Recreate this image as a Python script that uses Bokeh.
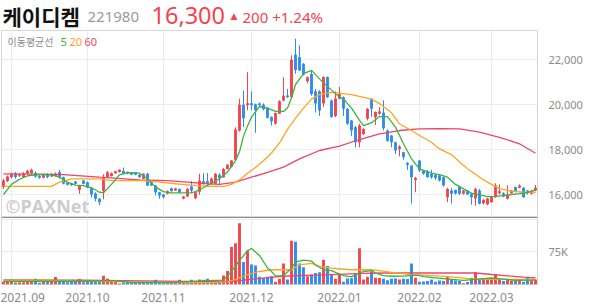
from bokeh.plotting import figure
from bokeh.layouts import column
from bokeh.models import ColumnDataSource, FixedTicker, Label, Span, NumeralTickFormatter, Range1d
from bokeh.embed import file_html
from bokeh.resources import INLINE

# ---------------- data ----------------
opens = [16330,16600,16770,16950,16830,16780,16920,16950,16970,16830,16750,16900,16800,16820,17000,16770,16520,16500,16580,16210,
         16620,16550,16300,16050,15810,16170,16770,16820,16950,17000,17050,16990,16960,16990,16880,16700,16920,16550,16400,16100,
         16000,16030,16280,16180,16250,15810,15910,16360,15830,16120,16590,16600,16480,16480,16880,16770,17140,17220,17550,18850,
         20000,19980,20070,20020,20050,20000,19860,19450,19150,19600,20190,20410,20330,22230,22110,21820,21050,21370,20600,20600,
         20050,21230,20190,19500,20270,20330,19820,19300,19000,18330,18700,19370,20260,19440,19600,19650,18850,18630,18330,18030,
         17880,17400,17290,16650,17510,17070,17030,16920,16880,16850,16770,15880,16180,16200,16330,16030,16180,16030,15820,16180,
         15610,15560,15660,15880,16060,16060,15810,16060,16330,16300,16300,16180,16030,16180]
highs = [16700,16850,16960,17000,16950,17000,17100,17150,17020,16880,16900,16950,16950,16980,17100,16800,16550,16530,16600,16420,
         16650,16580,16320,16100,15850,16900,17050,16980,17060,17120,17200,17030,16990,17010,16900,16950,16960,16570,16420,16120,
         16020,16180,16310,16300,16270,15930,16290,16600,16130,16930,16950,16960,16760,16960,16950,17180,17350,17540,19000,20260,
         20630,21450,20600,20050,20100,20060,19880,19480,19650,20200,21220,20700,22200,22940,22640,21850,21260,21500,20700,20650,
         21260,21260,20230,20600,20800,20370,19850,19320,19050,19150,18950,19850,20300,19700,19900,20200,18900,18650,18350,18200,
         17900,17450,17300,16780,17530,17100,17100,17100,16900,16880,16800,16300,16300,16220,16400,16200,16200,16060,16300,16250,
         15800,15850,15950,16500,16450,16100,16420,16200,16350,16450,16330,16200,16210,16420]
lows = [16250,16550,16720,16700,16780,16750,16880,16920,16750,16700,16720,16720,16780,16800,16700,16450,16400,16380,16450,16030,
        16450,16280,15870,15690,15530,15780,16750,16800,16930,16980,16900,16900,16860,16860,16740,16680,16380,16380,15960,15810,
        15830,16000,16130,16160,16050,15790,15880,16050,15790,16000,16440,16440,16450,16460,16480,16750,17120,17200,17500,18800,
        19000,19750,19750,18750,19920,19750,19380,19070,19120,19580,20150,20300,20300,21380,21500,21300,20950,20400,19650,19500,
        19900,20300,19420,19450,20250,19500,19100,18600,18100,18100,18650,19300,19450,19100,19550,18850,18350,18100,17800,17700,
        17550,17100,15600,16100,17000,16880,16750,16700,16650,16580,16350,15660,15600,16000,15980,16000,15980,15550,15500,15560,
        15550,15530,15630,15850,16000,15880,15780,16040,16100,16280,15850,16000,16000,16150]
closes = [16620,16800,16920,16780,16900,16950,17050,17100,16800,16750,16870,16780,16900,16930,16780,16480,16430,16420,16480,16400,
          16480,16300,16000,15810,15660,16770,16990,16950,17040,17100,16920,16920,16880,16880,16770,16920,16400,16400,16100,15960,
          15880,16150,16150,16280,16100,15910,16250,16180,16100,16620,16500,16500,16700,16920,16740,17140,17320,17510,18900,20000,
          19400,20070,19980,19750,19980,19800,19420,19260,19630,20150,20400,20340,22000,21550,21520,21340,21220,20480,20050,19740,
          21230,20330,19450,20280,20500,19820,19150,18850,18330,19070,18920,19820,19820,19670,19700,18950,18400,18330,17960,18140,
          17660,17330,16770,16730,17070,16920,16770,16770,16740,16620,16400,16250,16030,16050,16030,16180,16000,15880,16250,15590,
          15760,15820,15910,16400,16150,15910,16000,16180,16150,16400,15880,16060,16100,16300]
# volume in thousands of shares
volumes = [6.2,5.5,6.0,4.8,5.3,4.9,5.6,6.4,13.2,4.2,6.1,5.7,7.0,17.5,8.2,6.3,5.4,6.0,5.8,12.8,
           5.2,6.6,6.9,5.9,6.3,20.1,13.0,8.3,7.8,2.3,4.5,5.8,4.1,4.4,3.9,4.6,3.8,4.2,10.8,4.0,
           3.7,4.3,4.1,4.5,11.2,4.6,4.0,11.0,7.9,11.3,11.0,13.1,8.0,6.5,6.8,20.6,31.0,86.7,94.8,141.0,
           52.0,78.0,46.0,44.0,17.6,14.7,17.6,19.0,6.6,13.0,48.5,11.8,101.0,98.5,48.5,39.7,19.0,22.8,26.5,28.0,
           57.0,42.6,22.8,13.0,22.8,6.6,14.0,14.5,26.5,83.8,11.8,17.6,30.0,15.4,15.0,13.0,9.6,13.0,14.0,11.8,
           13.2,12.5,48.5,15.4,6.6,6.9,8.0,11.8,6.4,9.5,8.2,17.6,13.0,9.3,8.0,3.0,6.0,15.4,28.0,11.8,
           13.2,11.5,13.0,24.0,12.0,8.0,11.8,9.5,8.2,11.8,6.5,17.0,9.4,11.8]

# moving averages (trading-day index, value)
ma5_idx = [0,2,4,6,8,10,12,14,16,18,20,22,24,25,27,29,31,34,36,38,40,42,44,47,48,50,52,54,56,58,59,60,61,62,64,66,68,70,71,72,
           73,75,77,79,82,84,85,87,89,90,92,94,96,98,100,102,104,107,109,111,113,115,117,119,121,123,125,127,129,131,133]
ma5_val = [16000,16450,16680,16830,16880,16900,16870,16780,16540,16420,16400,16300,16100,16080,16450,16880,16980,16950,16700,16330,
           16130,16070,16070,16080,16130,16300,16500,16700,17000,17510,17900,18600,19050,19450,19920,19850,19700,19700,19850,20300,
           20900,21380,21530,21150,20650,20330,20260,19850,19300,19070,19200,19470,19470,19000,18260,17590,17140,16950,16890,16770,
           16450,16250,16060,15980,15910,15920,15950,16000,16040,16090,16200]
ma20_idx = [0,12,14,17,24,27,35,39,43,48,52,55,57,59,61,63,65,67,69,71,73,75,77,79,82,87,92,94,97,99,102,104,107,109,112,114,
            116,118,120,122,124,127,130,133]
ma20_val = [16360,16360,16550,16700,16700,16620,16620,16550,16480,16400,16360,16360,16450,16650,16950,17200,17500,17850,18300,18900,
            19400,19850,20250,20450,20550,20450,20250,20050,19640,19150,18850,18630,18330,18030,17780,17450,17150,16900,16650,16450,
            16260,16150,16100,16100]
ma60_idx = [0,14,24,34,41,46,51,54,58,62,66,70,74,79,84,89,94,99,104,109,114,119,124,129,133]
ma60_val = [16920,16900,16770,16650,16620,16550,16480,16450,16550,16770,16990,17220,17590,17960,18150,18450,18700,18850,18920,18930,
            18920,18780,18550,18260,17840]

vma5_idx = [0,10,20,26,28,32,38,42,46,50,53,55,57,59,61,62,64,66,67,68,70,72,73,75,77,78,80,82,83,85,87,88,90,92,93,95,97,100,
            102,104,105,108,112,115,118,122,125,128,133]
vma5_val = [7,7.5,7.5,9,8.5,5,5.5,4.5,6.5,8.5,9.5,10,30,55,78,83,67,38,30,20,20.6,37.5,52,56,54,45,34,32,28,20.6,17.6,22.8,30,32,
            26.5,20.6,19,19.5,21,21,18,15.4,11.8,9.6,12,15,12.5,9.6,10]
vma20_idx = [0,12,18,30,40,52,56,58,61,64,67,72,74,77,79,82,87,92,94,97,102,107,112,117,122,133]
vma20_val = [9.6,9.6,7,6.6,4.5,4.4,6,11.8,22.8,30,34,34,45,48.5,42.6,37.5,34,34,32,28,22.8,20.6,17.6,13,11.8,11.8]
vma60_idx = [0,20,40,52,57,60,63,66,70,75,80,85,90,95,118,122,126,130,133]
vma60_val = [10.5,10,8,6.5,6.5,10,13,16,19,21,22,24,25.5,26.5,26.5,23,20,17,15]

month_start = [2, 21, 40, 62, 84, 104, 122]
month_labels = ["2021.09", "2021.10", "2021.11", "2021.12", "2022.01", "2022.02", "2022.03"]
price_ticks = [16000, 18000, 20000, 22000]

title_name = "케이디켐"
title_code = "221980"
title_price = "16,300"
title_change = "200 +1.24%"

# ---------------- styling ----------------
UP = "#f2444f"
DOWN = "#2d8cf0"
C5 = "#3cb43c"
C20 = "#ffa41f"
C60 = "#f2426b"
GRID = "#ececec"
AXC = "#8a8a8a"
FONT = "Noto Sans"

n = len(opens)
idx = list(range(n))
up = [c >= o for o, c in zip(opens, closes)]
col = [UP if u else DOWN for u in up]
top = [max(o, c) for o, c in zip(opens, closes)]
bot = [min(o, c) for o, c in zip(opens, closes)]
bot = [b if t - b >= 40 else t - 40 for t, b in zip(top, bot)]
src = ColumnDataSource(dict(x=idx, o=opens, h=highs, l=lows, c=closes, top=top, bot=bot, col=col,
                            v=[vv * 1000 for vv in volumes]))

xr = Range1d(-0.5, n - 0.5)

# ---------------- header ----------------
h = figure(width=594, height=30, x_range=Range1d(0, 594), y_range=Range1d(0, 30),
           x_axis_location=None, y_axis_location=None, toolbar_location=None,
           output_backend="svg", min_border=0, outline_line_color=None)
h.xgrid.visible = False
h.ygrid.visible = False
h.add_layout(Label(x=1, y=15, x_units="screen", y_units="screen", text=title_name, text_font="Noto Sans CJK KR",
                   text_font_style="bold", text_font_size="21px", text_color="#111111", text_baseline="middle"))
h.add_layout(Label(x=86, y=14, x_units="screen", y_units="screen", text=title_code, text_font=FONT,
                   text_font_size="15px", text_color="#9a9a9a", text_baseline="middle"))
h.add_layout(Label(x=150, y=15, x_units="screen", y_units="screen", text=title_price, text_font=FONT,
                   text_font_size="23.5px", text_color=UP, text_baseline="middle"))
h.add_layout(Label(x=229, y=15, x_units="screen", y_units="screen", text="▲", text_font="DejaVu Sans",
                   text_font_size="9px", text_color=UP, text_baseline="middle"))
h.add_layout(Label(x=241, y=14, x_units="screen", y_units="screen", text=title_change, text_font=FONT,
                   text_font_size="15px", text_color=UP, text_baseline="middle"))

# ---------------- price panel ----------------
p = figure(width=594, height=187, x_range=xr, y_range=Range1d(14976, 23305),
           x_axis_location=None, y_axis_location="right", toolbar_location=None,
           output_backend="svg", min_border_left=1, min_border_right=57,
           min_border_top=0, min_border_bottom=0, outline_line_color="#d6d6d6")
p.xgrid.ticker = FixedTicker(ticks=month_start)
p.grid.grid_line_color = GRID
p.yaxis.ticker = FixedTicker(ticks=price_ticks)
p.yaxis.formatter = NumeralTickFormatter(format="0,0")
p.yaxis.axis_line_color = None
p.yaxis.major_tick_line_color = None
p.yaxis.minor_tick_line_color = None
p.yaxis.major_label_standoff = 5
p.yaxis.major_label_text_color = AXC
p.yaxis.major_label_text_font = FONT
p.yaxis.major_label_text_font_size = "11px"

p.add_layout(Label(x=4, y=12, x_units="screen", y_units="screen", text="©PAXNet", text_font="Open Sans",
                   text_font_style="bold", text_font_size="18px", text_color="#cdcdcd", text_baseline="middle"))

p.segment(x0="x", y0="h", x1="x", y1="l", color="col", line_width=1, source=src)
p.vbar(x="x", top="top", bottom="bot", width=0.72, fill_color="col", line_color=None, source=src)

p.line(ma60_idx, ma60_val, line_color=C60, line_width=1.3)
p.line(ma20_idx, ma20_val, line_color=C20, line_width=1.3)
p.line(ma5_idx, ma5_val, line_color=C5, line_width=1.3)

p.add_layout(Label(x=6, y=176, x_units="screen", y_units="screen", text="이동평균선", text_font="Noto Sans CJK KR",
                   text_font_size="10px", text_color="#8c8c8c", text_baseline="middle"))
p.add_layout(Label(x=59, y=176, x_units="screen", y_units="screen", text="5", text_font=FONT,
                   text_font_size="11px", text_color=C5, text_baseline="middle"))
p.add_layout(Label(x=68, y=176, x_units="screen", y_units="screen", text="20", text_font=FONT,
                   text_font_size="11px", text_color=C20, text_baseline="middle"))
p.add_layout(Label(x=83, y=176, x_units="screen", y_units="screen", text="60", text_font=FONT,
                   text_font_size="11px", text_color=C60, text_baseline="middle"))

# ---------------- volume panel ----------------
v = figure(width=594, height=87, x_range=xr, y_range=Range1d(0, 154400),
           y_axis_location="right", toolbar_location=None, output_backend="svg",
           min_border_left=1, min_border_right=57, min_border_top=0, min_border_bottom=17,
           outline_line_color="#d6d6d6")
v.xgrid.ticker = FixedTicker(ticks=month_start)
v.ygrid.ticker = FixedTicker(ticks=[75000, 150000])
v.grid.grid_line_color = GRID
lab_pos = [max(s, 4.5) for s in month_start]
v.xaxis.ticker = FixedTicker(ticks=lab_pos)
v.xaxis.major_label_overrides = {float(t): lbl for t, lbl in zip(lab_pos, month_labels)}
v.xaxis.axis_line_color = None
v.xaxis.major_tick_line_color = None
v.xaxis.minor_tick_line_color = None
v.xaxis.major_label_standoff = 2
v.xaxis.major_label_text_color = AXC
v.xaxis.major_label_text_font = FONT
v.xaxis.major_label_text_font_size = "12px"
v.yaxis.ticker = FixedTicker(ticks=[75000])
v.yaxis.major_label_overrides = {75000: "75K"}
v.yaxis.axis_line_color = None
v.yaxis.major_tick_line_color = None
v.yaxis.minor_tick_line_color = None
v.yaxis.major_label_standoff = 5
v.yaxis.major_label_text_color = AXC
v.yaxis.major_label_text_font = FONT
v.yaxis.major_label_text_font_size = "11px"

v.vbar(x="x", top="v", bottom=0, width=0.72, fill_color="col", line_color=None, source=src)
v.line(vma60_idx, [x * 1000 for x in vma60_val], line_color=C60, line_width=1.3)
v.line(vma20_idx, [x * 1000 for x in vma20_val], line_color=C20, line_width=1.3)
v.line(vma5_idx, [x * 1000 for x in vma5_val], line_color=C5, line_width=1.3)
v.add_layout(Span(location=154400, dimension="width", line_color="#444444", line_width=1))

layout = column(h, p, v, spacing=0)
open("out.html", "w").write(file_html(layout, INLINE))
